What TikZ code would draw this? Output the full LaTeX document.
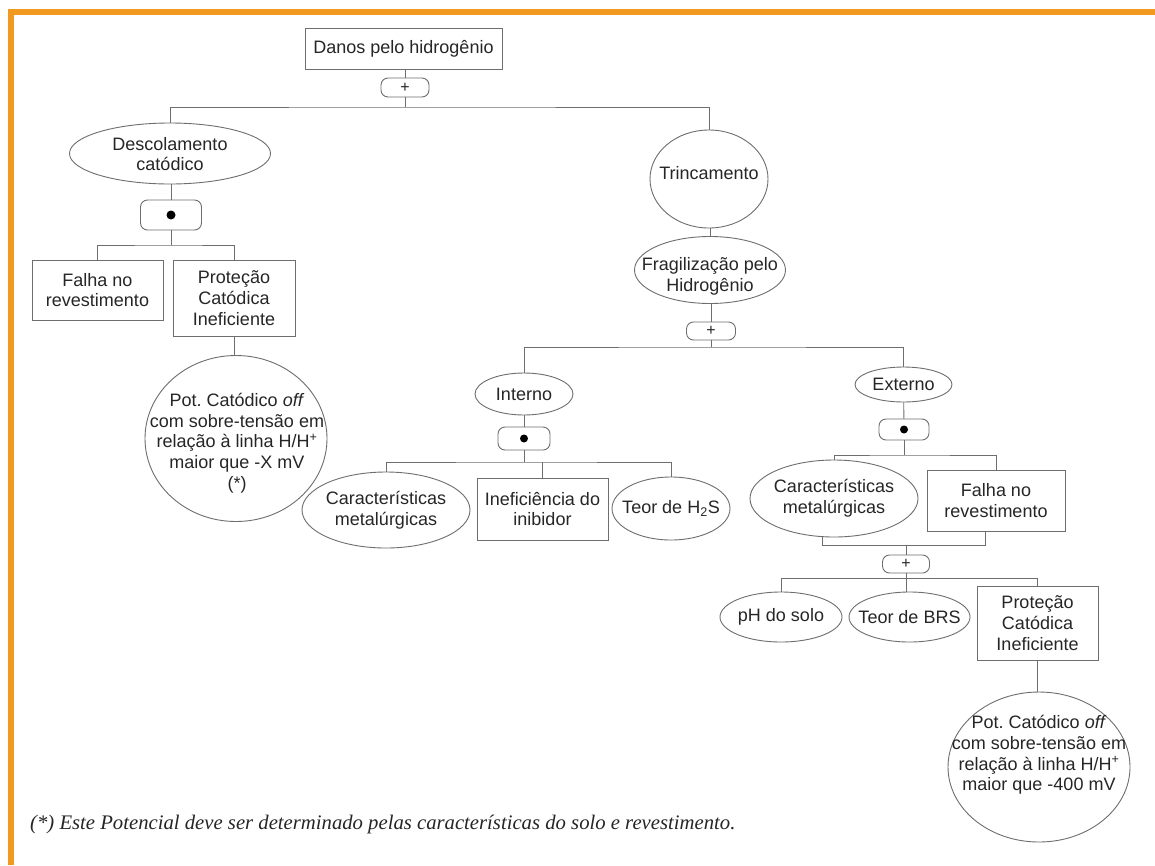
\documentclass[tikz,border=0pt]{standalone}
\usepackage{fontspec}
\setmainfont{Liberation Sans}
\newfontfamily\notefont{Liberation Serif}
\usetikzlibrary{shapes.geometric,calc}
\frenchspacing
\definecolor{orangebar}{HTML}{F29A1F}
\definecolor{linegray}{HTML}{6E6E6E}
\definecolor{txtgray}{HTML}{262626}
\tikzset{
  base/.style={draw=linegray, line width=0.9pt, inner sep=0pt, text=txtgray, align=center, font=\fontsize{18}{20.7}\selectfont},
  boxnode/.style={base, rectangle},
  ellnode/.style={base, ellipse},
  txt/.style={inner sep=0pt, text=txtgray, align=center, font=\fontsize{18}{20.7}\selectfont},
  gate/.style={draw=linegray, line width=0.9pt, rounded corners=7pt, inner sep=0pt, text=txtgray, font=\fontsize{16}{16}\selectfont},
  conn/.style={draw=linegray, line width=0.9pt},
}
\begin{document}
\begin{tikzpicture}[x=1pt,y=-1pt]
\useasboundingbox (0,0) rectangle (1155,865);
\fill[white] (0,0) rectangle (1155,865);
% orange frame
\fill[orangebar] (8,9) rectangle (1155,15);
\fill[orangebar] (8,9) rectangle (14,865);

% top
\node[boxnode, minimum width=197pt, minimum height=41pt] (top) at (403.5,48.5) {Danos pelo hidrog\^enio};
\node[gate, minimum width=48pt, minimum height=19pt] (g1) at (405,87.5) {+};
\coordinate (b1) at (405,107);

% left branch
\node[ellnode, minimum width=201pt, minimum height=61pt] (desc) at (170,153.5) {};
\node[txt] (descT) at (170,154) {Descolamento\\cat\'odico};
\node[gate, minimum width=61pt, minimum height=30pt] (g2) at (171,215) {};
\fill[black] (g2.center) circle (4.5pt);
\coordinate (b2) at (171,245);
\node[boxnode, minimum width=131pt, minimum height=60pt] (falha1) at (97.5,290) {Falha no\\revestimento};
\node[boxnode, minimum width=122pt, minimum height=76pt] (prot1) at (234,298) {Prote\c{c}\~ao\\Cat\'odica\\Ineficiente};
\node[ellnode, minimum width=182pt, minimum height=166pt] (pot1) at (236,438.5) {};
\node[txt] (pot1T) at (237,443) {Pot. Cat\'odico \textit{off}\\com sobre-tens\~ao em\\rela\c{c}\~ao \`a linha H/H\textsuperscript{+}\\maior que -X mV\\(*)};

% right branch
\node[ellnode, minimum width=118pt, minimum height=98pt] (trinc) at (709,179) {};
\node[txt] (trincT) at (709,173) {Trincamento};
\node[ellnode, minimum width=151pt, minimum height=67pt] (frag) at (710,270) {};
\node[txt] (fragT) at (710,276) {Fragiliza\c{c}\~ao pelo\\Hidrog\^enio};
\node[gate, minimum width=49pt, minimum height=18pt] (g3) at (711,331) {+};
\coordinate (b3) at (711,347);

% Interno
\node[ellnode, minimum width=98pt, minimum height=42pt] (int) at (524,394) {};
\node[txt] (intT) at (524,394) {Interno};
\node[gate, minimum width=52pt, minimum height=23pt] (g4) at (524,438.5) {};
\fill[black] (g4.center) circle (4pt);
\coordinate (b4) at (524,462);
\node[ellnode, minimum width=168pt, minimum height=76pt] (car1) at (386,510) {};
\node[txt] (car1T) at (386,510) {Caracter\'isticas\\metal\'urgicas};
\node[boxnode, minimum width=131pt, minimum height=62pt] (inef) at (542.5,509) {Inefici\^encia do\\inibidor};
\node[ellnode, minimum width=118pt, minimum height=63pt] (teor) at (671,508.5) {};
\node[txt] (teorT) at (671,508.5) {Teor de H\textsubscript{2}S};

% Externo
\node[ellnode, minimum width=97pt, minimum height=35pt] (ext) at (903.5,384.5) {};
\node[txt] (extT) at (903.5,384.5) {Externo};
\node[gate, minimum width=50pt, minimum height=21pt] (g5) at (904,429.5) {};
\fill[black] (g5.center) circle (4pt);
\coordinate (b5) at (904,455);
\node[ellnode, minimum width=168pt, minimum height=77pt] (car2) at (834,498.5) {};
\node[txt] (car2T) at (834,498.5) {Caracter\'isticas\\metal\'urgicas};
\node[boxnode, minimum width=138pt, minimum height=61pt] (falha2) at (996,500.5) {Falha no\\revestimento};
\coordinate (j1) at (822,545);
\coordinate (j2) at (985,545);
\node[gate, minimum width=47pt, minimum height=18pt] (g6) at (906,564) {+};
\coordinate (b6) at (906,578);
\node[ellnode, minimum width=122pt, minimum height=50pt] (ph) at (781,617) {};
\node[txt] (phT) at (781,617) {pH do solo};
\node[ellnode, minimum width=121pt, minimum height=50pt] (brs) at (909.5,617) {};
\node[txt] (brsT) at (909.5,617) {Teor de BRS};
\node[boxnode, minimum width=121pt, minimum height=74pt] (prot2) at (1037.5,623) {Prote\c{c}\~ao\\Cat\'odica\\Ineficiente};
\node[ellnode, minimum width=182pt, minimum height=150pt] (pot2) at (1039,767) {};
\node[txt] (pot2T) at (1039,755) {Pot. Cat\'odico \textit{off}\\com sobre-tens\~ao em\\rela\c{c}\~ao \`a linha H/H\textsuperscript{+}\\maior que -400 mV};

% connectors
\draw[conn] (g1.north) -- (g1.north |- top.south);
\draw[conn] (g1) -- (b1);
\draw[conn] (desc.north) |- (b1) -| (trinc.north);
\draw[conn] (g2.north) -- (g2.north |- desc.south);
\draw[conn] (g2) -- (b2);
\draw[conn] (falha1.north) |- (b2) -| (prot1.north);
\draw[conn] (prot1.south) -- (prot1.south |- pot1.north);
\draw[conn] (frag.north) -- (frag.north |- trinc.south);
\draw[conn] (g3.north) -- (g3.north |- frag.south);
\draw[conn] (g3) -- (b3);
\draw[conn] (int.north) |- (b3) -| (ext.north);
\draw[conn] (int) -- (g4);
\draw[conn] (g4) -- (b4);
\draw[conn] (car1.north) |- (b4) -| (teor.north);
\draw[conn] (b4 -| inef.north) -- (inef.north);
\draw[conn] (ext) -- (g5);
\draw[conn] (g5) -- (b5);
\draw[conn] (car2.north) |- (b5) -| (falha2.north);
\draw[conn] (j1 |- car2.south) -- (j1) -- (j2) -- (j2 |- falha2.south);
\draw[conn] (j1 -| g6) -- (g6);
\draw[conn] (g6) -- (b6);
\draw[conn] (ph.north) |- (b6) -| (prot2.north);
\draw[conn] (b6) -- (b6 |- brs.north);
\draw[conn] (prot2.south) -- (prot2.south |- pot2.north);

% footnote
\node[anchor=base west, inner sep=0pt, text=txtgray, font=\notefont\itshape\fontsize{20.7}{22}\selectfont] (note) at (30,829) {(*) Este Potencial deve ser determinado pelas caracter\'isticas do solo e revestimento.};
\end{tikzpicture}
\end{document}
